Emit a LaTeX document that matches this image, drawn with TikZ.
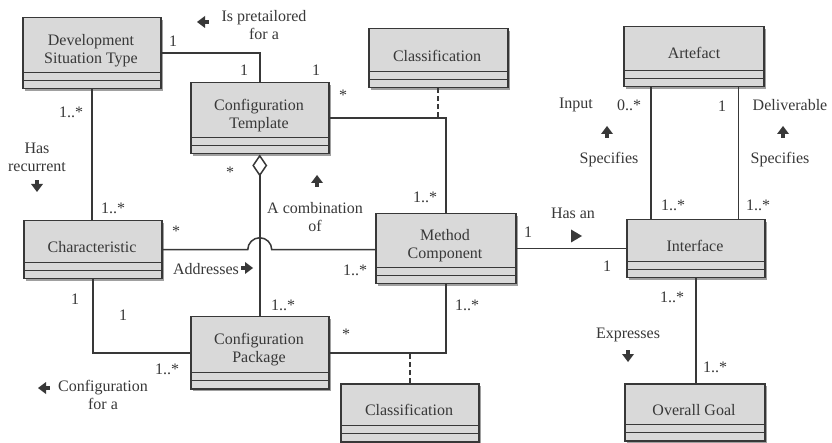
\documentclass[tikz,border=0pt]{standalone}
\usepackage{fontspec}
\setmainfont{Liberation Serif}
\usetikzlibrary{arrows.meta,calc,shadows}
\definecolor{ink}{HTML}{383838}
\definecolor{boxfill}{HTML}{D9D9D9}
\definecolor{shade}{HTML}{A0A0A0}
\tikzset{
  umlbox/.style={draw=ink, line width=1.5pt, fill=boxfill, inner sep=0pt, anchor=north west,
    drop shadow={shadow xshift=2.5pt, shadow yshift=-2.5pt, fill=shade, opacity=1},
    path picture={
      \draw[ink, line width=1.3pt] ([yshift=16pt]path picture bounding box.south west) -- ([yshift=16pt]path picture bounding box.south east);
      \draw[ink, line width=1.3pt] ([yshift=8pt]path picture bounding box.south west) -- ([yshift=8pt]path picture bounding box.south east);
    }},
  boxtxt/.style={align=center, inner sep=0pt, text=ink},
  lab/.style={align=center, inner sep=0pt, text=ink},
  conn/.style={draw=ink, line width=1.5pt},
  assoc/.style={draw=ink, dash pattern=on 5pt off 3pt, line width=1.8pt},
  dirarr/.pic={\fill[ink] (0,-6) -- (6,2) -- (-6,2) -- cycle; \fill[ink] (-1.6,1) rectangle (1.6,6);},
  triarr/.pic={\fill[ink] (6,0) -- (-5,-6.5) -- (-5,6.5) -- cycle;}
}
\begin{document}
\begin{tikzpicture}[x=1pt,y=-1pt, font=\fontsize{16}{18}\selectfont]
\useasboundingbox[fill=white] (0,0) rectangle (832,443);

% classes
\node[umlbox, minimum width=138pt, minimum height=71pt] (dst) at (22,17) {};
\node[umlbox, minimum width=138pt, minimum height=71pt] (ct) at (190,82) {};
\node[umlbox, minimum width=139pt, minimum height=59pt] (cls1) at (368,28) {};
\node[umlbox, minimum width=140pt, minimum height=60pt] (art) at (623,26) {};
\node[umlbox, minimum width=138pt, minimum height=58pt] (cha) at (23,220) {};
\node[umlbox, minimum width=140pt, minimum height=70pt] (mc) at (375,213) {};
\node[umlbox, minimum width=138pt, minimum height=58pt] (ifc) at (626,219) {};
\node[umlbox, minimum width=138pt, minimum height=72pt] (cp) at (190,316) {};
\node[umlbox, minimum width=138pt, minimum height=58pt] (cls2) at (340,383) {};
\node[umlbox, minimum width=140pt, minimum height=57pt] (og) at (624,383) {};

\node[boxtxt] (dstt) at (91,51) {Development\\Situation Type};
\node[boxtxt] (ctt) at (259,116) {Configuration\\Template};
\node[boxtxt] (cls1t) at (437,56) {Classification};
\node[boxtxt] (artt) at (694,53) {Artefact};
\node[boxtxt] (chat) at (92,247) {Characteristic};
\node[boxtxt] (mct) at (445,246) {Method\\Component};
\node[boxtxt] (ifct) at (695,246) {Interface};
\node[boxtxt] (cpt) at (259,350) {Configuration\\Package};
\node[boxtxt] (cls2t) at (409,410) {Classification};
\node[boxtxt] (ogt) at (694,410) {Overall Goal};

% connectors
\draw[conn] (dst.east) -| (ct.north);
\draw[conn] (ct.east) -| (mc.north);
\draw[assoc] (cls1.south) -- (cls1.south |- ct.east);
\draw[conn] (dst.south) -- (dst.south |- cha.north);
\draw[conn, -{Diamond[open, length=22pt, width=15pt]}] (cp.north) -- (ct.south);
\draw[conn] (cha.east) -- ($(cha.east -| ct.south)+(-12,0)$) arc[start angle=180, end angle=0, radius=12pt] -- (cha.east -| mc.west);
\draw[conn] (cha.south) |- (cp.west);
\draw[conn] (mc.south) |- (cp.east);
\draw[assoc] (cls2.north) -- (cls2.north |- cp.east);
\draw[conn] (mc.east) -- (mc.east -| ifc.west);
\coordinate (a1) at ($(art.south west)+(28,0)$);
\coordinate (a2) at ($(art.south east)+(-26,0)$);
\draw[conn] (a1) -- (a1 |- ifc.north);
\draw[conn] (a2) -- (a2 |- ifc.north);
\draw[conn] (ifc.south) -- (ifc.south |- og.north);

% multiplicities
\node[lab] (m1) at (173,41) {1};
\node[lab] (m2) at (244,70) {1};
\node[lab] (m3) at (316,70) {1};
\node[lab] (m4) at (343,95) {*};
\node[lab] (m5) at (71,112) {1..*};
\node[lab] (m6) at (113,208) {1..*};
\node[lab] (m7) at (230,172) {*};
\node[lab] (m8) at (425,197) {1..*};
\node[lab] (m9) at (176,231) {*};
\node[lab] (m10) at (355,270) {1..*};
\node[lab] (m11) at (75,299) {1};
\node[lab] (m12) at (123,315) {1};
\node[lab] (m13) at (283,305) {1..*};
\node[lab] (m14) at (346,334) {*};
\node[lab] (m15) at (167,369) {1..*};
\node[lab] (m16) at (467,305) {1..*};
\node[lab] (m17) at (528,232) {1};
\node[lab] (m18) at (607,266) {1};
\node[lab] (m19) at (629,105) {0..*};
\node[lab] (m20) at (722,106) {1};
\node[lab] (m21) at (673,205) {1..*};
\node[lab] (m22) at (758,205) {1..*};
\node[lab] (m23) at (672,297) {1..*};
\node[lab] (m24) at (715,367) {1..*};

% association names
\node[lab] (n1) at (264,25) {Is pretailored\\for a};
\pic[rotate=90] at (203,22) {dirarr};
\node[lab] (n2) at (37,157) {Has\\recurrent};
\pic[rotate=180] at (37,186) {dirarr};
\node[lab] (n3) at (315,217) {A combination\\of};
\pic at (317,181) {dirarr};
\node[lab] (n4) at (206,269) {Addresses};
\pic[rotate=-90] at (247,268) {dirarr};
\node[lab] (n5) at (103,395) {Configuration\\for a};
\pic[rotate=90] at (44,388) {dirarr};
\node[lab] (n6) at (573,213) {Has an};
\pic at (576,236) {triarr};
\node[lab] (n7) at (628,335) {Expresses};
\pic[rotate=180] at (628,356) {dirarr};
\node[lab] (n8) at (576,105) {Input};
\pic at (607,132) {dirarr};
\node[lab] (n9) at (609,160) {Specifies};
\node[lab] (n10) at (790,105) {Deliverable};
\pic at (783,132) {dirarr};
\node[lab] (n11) at (780,160) {Specifies};
\end{tikzpicture}
\end{document}
